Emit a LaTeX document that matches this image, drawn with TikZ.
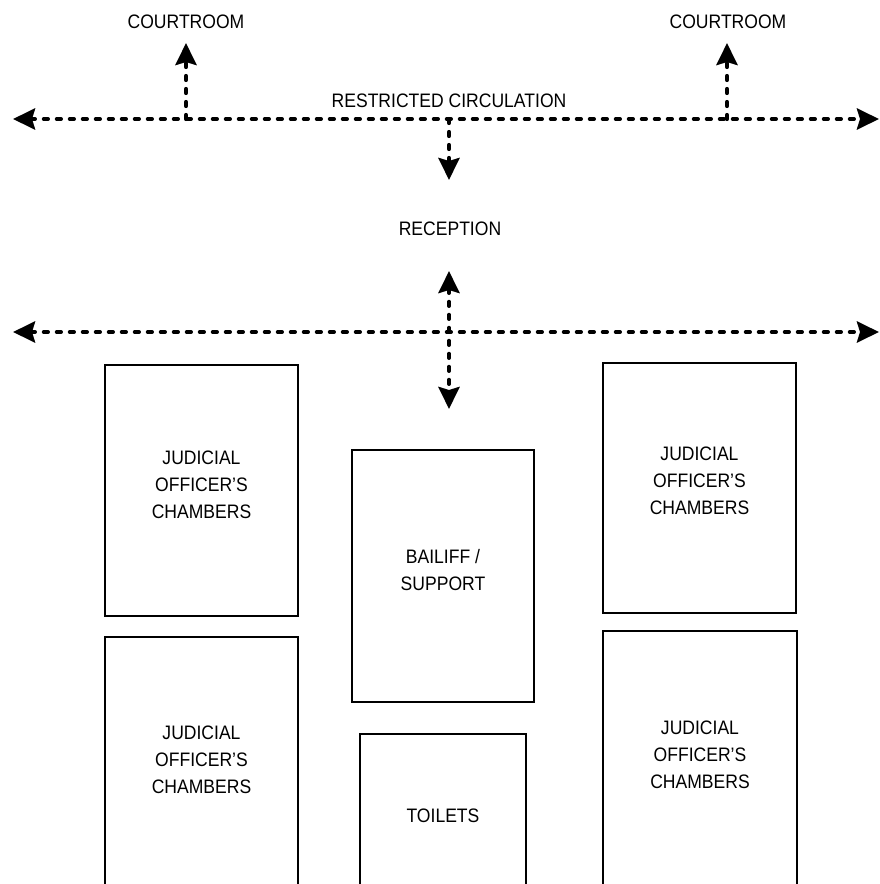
\documentclass[tikz,border=0pt]{standalone}
\usepackage{fontspec}
\setmainfont[FakeStretch=0.9]{Liberation Sans}
\usetikzlibrary{arrows.meta}

\tikzset{
    >={Stealth[length=22pt,width=21pt,inset=3pt]},
    walk/.style={line width=4.2pt, dash pattern=on 4pt off 9pt, line cap=round},
    tag/.style={inner sep=0pt, font=\fontsize{19.5}{27}\selectfont},
    room/.style={draw, line width=2.5pt, inner sep=0pt},
    roomtext/.style={align=center, inner sep=0pt, font=\fontsize{19.5}{27}\selectfont}
}

\begin{document}
\begin{tikzpicture}[x=1pt, y=-1pt]
    \useasboundingbox (0,0) rectangle (880,884);
    \clip (0,0) rectangle (880,884);

        %%labels
        \node[tag] (court1) at (186,22){COURTROOM};
        \node[tag] (court2) at (728,22){COURTROOM};
        \node[tag] (restricted) at (449,101){RESTRICTED CIRCULATION};
        \node[tag] (reception) at (450,229){RECEPTION};

        %%restricted circulation
        \coordinate (wl1) at (13,119);
        \coordinate (wr1) at (879,119);
        \coordinate (jc1) at (186,119);
        \coordinate (jc2) at (727,119);
        \coordinate (jr) at (449,119);
        \coordinate (tc1) at (186,43);
        \coordinate (tc2) at (727,43);
        \coordinate (tr) at (449,180);
            \draw[walk, <->] (wl1) -- (wr1);
            \draw[walk, ->] (jc1) -- (tc1);
            \draw[walk, ->] (jc2) -- (tc2);
            \draw[walk, ->] (jr) -- (tr);

        %%lower corridor
        \coordinate (wl2) at (13,332);
        \coordinate (wr2) at (879,332);
        \coordinate (ru) at (449,271);
        \coordinate (rd) at (449,409);
            \draw[walk, <->] (wl2) -- (wr2);
            \draw[walk, <->] (ru) -- (rd);

        %%rooms left
        \node[room, minimum width=193pt, minimum height=251pt,
            label={[roomtext, yshift=6pt]center:JUDICIAL\\OFFICER'S\\CHAMBERS}] (chambers1) at (201.5,490.5){};
        \node[room, minimum width=193pt, minimum height=251pt,
            label={[roomtext, yshift=2.5pt]center:JUDICIAL\\OFFICER'S\\CHAMBERS}] (chambers2) at (201.5,762.5){};

        %%rooms middle
        \node[room, minimum width=182pt, minimum height=252pt,
            label={[roomtext, yshift=5.5pt]center:BAILIFF /\\SUPPORT}] (bailiff) at (443,576){};
        \node[room, minimum width=166pt, minimum height=154pt,
            label={[roomtext, yshift=-5pt]center:TOILETS}] (toilets) at (443,811){};

        %%rooms right
        \node[room, minimum width=193pt, minimum height=250pt,
            label={[roomtext, yshift=7pt]center:JUDICIAL\\OFFICER'S\\CHAMBERS}] (chambers3) at (699.5,488){};
        \node[room, minimum width=194pt, minimum height=257pt,
            label={[roomtext, yshift=4.5pt]center:JUDICIAL\\OFFICER'S\\CHAMBERS}] (chambers4) at (700,759.5){};
\end{tikzpicture}
\end{document}
